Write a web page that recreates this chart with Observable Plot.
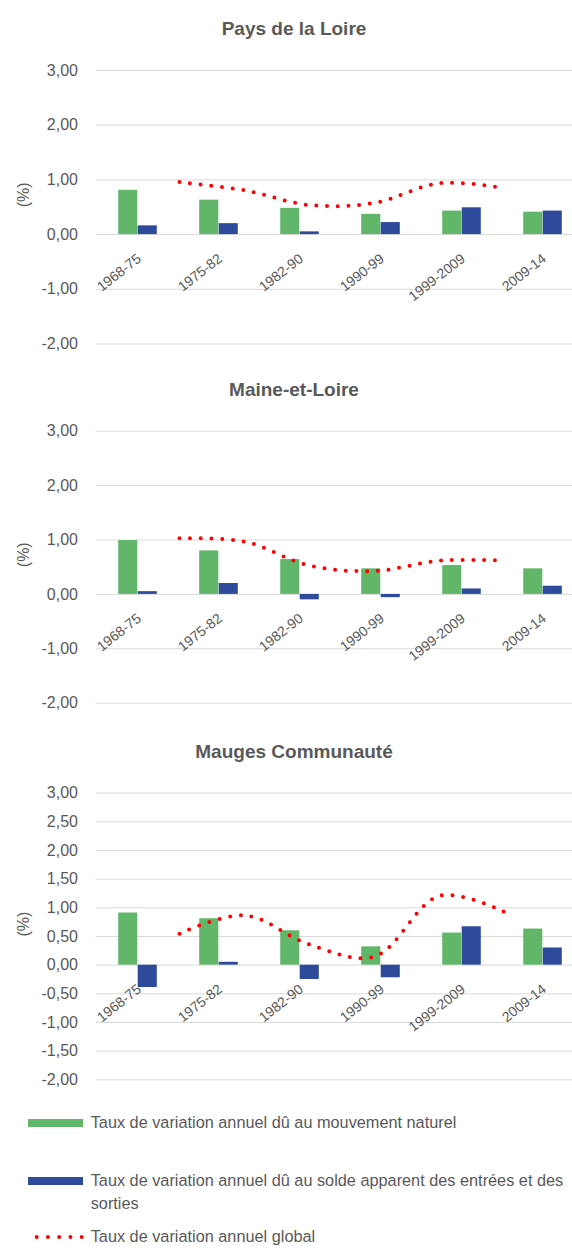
<!DOCTYPE html>
<html>
<head>
<meta charset="utf-8">
<script src="https://cdn.jsdelivr.net/npm/d3@7"></script>
<script src="https://cdn.jsdelivr.net/npm/@observablehq/plot@0.6"></script>
<style>
  body { margin: 0; background: #fff; font-family: "Liberation Sans", Arial, sans-serif; }
  #root { position: relative; width: 572px; height: 1249px; overflow: hidden; background: #fff; }
  .title { position: absolute; left: 0; width: 588px; text-align: center; font-weight: bold;
           font-size: 19px; line-height: 22px; color: #595959; white-space: nowrap; }
  .leg-text { position: absolute; left: 90.7px; font-size: 16.3px; line-height: 22.6px; color: #595959; white-space: nowrap; }
  .swatch { position: absolute; left: 28.3px; width: 55px; height: 8px; }
</style>
</head>
<body>
<div id="root"></div>
<script>
// ---- Data ----
const categories = ["1968-75", "1975-82", "1982-90", "1990-99", "1999-2009", "2009-14"];

const titles = ["Pays de la Loire", "Maine-et-Loire", "Mauges Communauté"];

// Pays de la Loire
const pdlNaturel   = [0.81, 0.63, 0.48, 0.37, 0.43, 0.41];
const pdlMigratoire = [0.16, 0.20, 0.05, 0.22, 0.49, 0.43];
const pdlGlobal    = [0.96, 0.81, 0.54, 0.58, 0.94, 0.85];

// Maine-et-Loire
const mlNaturel    = [0.99, 0.80, 0.64, 0.47, 0.53, 0.47];
const mlMigratoire = [0.05, 0.20, -0.10, -0.06, 0.10, 0.15];
const mlGlobal     = [1.03, 0.97, 0.53, 0.43, 0.62, 0.62];

// Mauges Communauté
const mcNaturel    = [0.91, 0.81, 0.60, 0.32, 0.56, 0.63];
const mcMigratoire = [-0.39, 0.05, -0.25, -0.22, 0.67, 0.30];
const mcGlobal     = [0.55, 0.87, 0.36, 0.15, 1.21, 0.93];

const ticksWhole = [-2, -1, 0, 1, 2, 3];
const ticksHalf  = [-2, -1.5, -1, -0.5, 0, 0.5, 1, 1.5, 2, 2.5, 3];

const legendLabels = [
  "Taux de variation annuel dû au mouvement naturel",
  "Taux de variation annuel dû au solde apparent des entrées et des<br>sorties",
  "Taux de variation annuel global"
];

// ---- Styles ----
const GREEN = "#62b66a";
const BLUE = "#2e4a9b";
const RED = "#ff0000";
const TEXT = "#595959";
const GRID = "#d9d9d9";
const FONT = '"Liberation Sans", Arial, sans-serif';

const fr = d3.formatLocale({decimal: ",", thousands: "\u00a0", grouping: [3], currency: ["", "€"], minus: "-"});
const fmt = fr.format(".2f");

const root = document.getElementById("root");

const panels = [
  {title: titles[0], titleY: 29.3, top: 45,  height: 310, mt: 25,   mb: 11.5, ticks: ticksWhole,
   nat: pdlNaturel, mig: pdlMigratoire, glob: pdlGlobal},
  {title: titles[1], titleY: 390,  top: 405, height: 310, mt: 25.7, mb: 12.3, ticks: ticksWhole,
   nat: mlNaturel, mig: mlMigratoire, glob: mlGlobal},
  {title: titles[2], titleY: 752,  top: 767, height: 325, mt: 25.7, mb: 12.7, ticks: ticksHalf,
   nat: mcNaturel, mig: mcMigratoire, glob: mcGlobal}
];

const xRange = [95.5, 584];
const step = (xRange[1] - xRange[0]) / categories.length;
const barW = 19.5;

for (const p of panels) {
  const t = document.createElement("div");
  t.className = "title";
  t.style.top = (p.titleY - 11) + "px";
  t.textContent = p.title;
  root.appendChild(t);

  const rows = categories.map((c, i) => ({c, nat: p.nat[i], mig: p.mig[i], glob: p.glob[i]}));

  const common = {
    width: 572, height: p.height,
    marginLeft: 95.5, marginRight: 0, marginTop: p.mt, marginBottom: p.mb
  };

  const main = Plot.plot({
    ...common,
    style: {background: "transparent", overflow: "visible", fontFamily: FONT, color: TEXT},
    x: {type: "band", domain: categories, range: xRange, padding: 0, axis: null},
    y: {domain: [-2, 3]},
    marks: [
      Plot.ruleY(p.ticks, {stroke: GRID, strokeWidth: 1}),
      Plot.axisY(p.ticks, {anchor: "left", tickSize: 0, tickPadding: 18, tickFormat: fmt,
                           fontSize: 16, fill: TEXT, label: null}),
      Plot.barY(rows, {x: "c", y: "nat", fill: GREEN, insetLeft: step / 2 - barW, insetRight: step / 2}),
      Plot.barY(rows, {x: "c", y: "mig", fill: BLUE, insetLeft: step / 2, insetRight: step / 2 - barW}),
      Plot.text(categories, {x: d => d, y: () => 0, text: d => d, rotate: -38,
                             textAnchor: "end", lineAnchor: "top", dx: -2, dy: 18,
                             fontSize: 14, fill: TEXT}),
      Plot.text(["(%)"], {frameAnchor: "left", text: d => d, dx: -72.5, rotate: -90,
                          fontSize: 16, fill: TEXT})
    ]
  });
  main.style.position = "absolute";
  main.style.left = "0px";
  main.style.top = p.top + "px";
  root.appendChild(main);

  const line = Plot.plot({
    ...common,
    style: {background: "transparent", overflow: "visible", fontFamily: FONT},
    x: {type: "point", domain: categories, range: [145.7, 537], axis: null},
    y: {domain: [-2, 3], axis: null},
    marks: [
      Plot.line(rows, {x: "c", y: "glob", stroke: RED, strokeWidth: 4,
                       strokeDasharray: "0 10.7", strokeLinecap: "round", curve: "catmull-rom"})
    ]
  });
  line.style.position = "absolute";
  line.style.left = "0px";
  line.style.top = p.top + "px";
  root.appendChild(line);
}

// ---- Legend ----
function addSwatch(color, cy) {
  const s = document.createElement("div");
  s.className = "swatch";
  s.style.background = color;
  s.style.top = (cy - 4) + "px";
  root.appendChild(s);
}
function addText(html, cy) {
  const d = document.createElement("div");
  d.className = "leg-text";
  d.style.top = (cy - 11.3) + "px";
  d.innerHTML = html;
  root.appendChild(d);
}
addSwatch(GREEN, 1122.7);
addText(legendLabels[0], 1122.7);
addSwatch(BLUE, 1180.7);
addText(legendLabels[1], 1180.7);

const ns = "http://www.w3.org/2000/svg";
const dots = document.createElementNS(ns, "svg");
dots.setAttribute("width", "60");
dots.setAttribute("height", "14");
dots.style.position = "absolute";
dots.style.left = "30px";
dots.style.top = (1236.7 - 7) + "px";
const ln = document.createElementNS(ns, "line");
ln.setAttribute("x1", "6.7"); ln.setAttribute("x2", "52");
ln.setAttribute("y1", "7"); ln.setAttribute("y2", "7");
ln.setAttribute("stroke", RED);
ln.setAttribute("stroke-width", "4");
ln.setAttribute("stroke-linecap", "round");
ln.setAttribute("stroke-dasharray", "0 11.25");
dots.appendChild(ln);
root.appendChild(dots);
addText(legendLabels[2], 1236.7);
</script>
</body>
</html>
